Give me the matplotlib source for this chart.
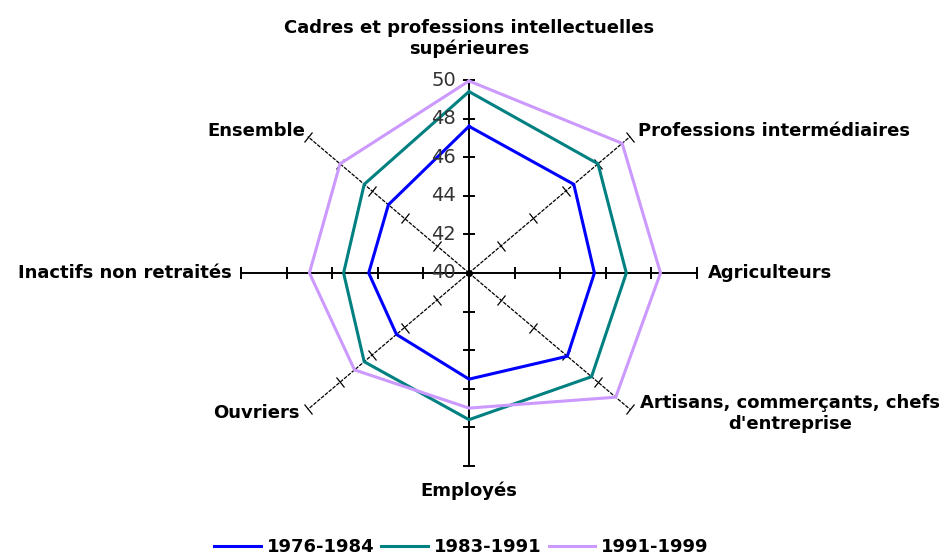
import matplotlib.pyplot as plt
from matplotlib.markers import MarkerStyle
from matplotlib.transforms import Affine2D
import numpy as np

# catégories dans le sens horaire depuis le haut
categories = ["Cadres et professions intellectuelles\nsupérieures",
              "Professions intermédiaires",
              "Agriculteurs",
              "Artisans, commerçants, chefs\nd'entreprise",
              "Employés",
              "Ouvriers",
              "Inactifs non retraités",
              "Ensemble"]
p1976 = [47.6, 46.5, 45.5, 46.1, 45.5, 44.5, 44.4, 45.0]
p1983 = [49.4, 48.0, 46.9, 47.6, 47.6, 46.5, 45.5, 46.5]
p1991 = [49.95, 49.5, 48.4, 49.1, 47.0, 47.1, 47.0, 48.0]
ticks = [40, 42, 44, 46, 48, 50]
series_names = ["1976-1984", "1983-1991", "1991-1999"]
colors = ["#0000FF", "#008080", "#CC99FF"]

W, H = 953, 557
fig = plt.figure(figsize=(W/100, H/100), dpi=100)
# axe polaire etire horizontalement comme dans le graphique Excel
ax = fig.add_axes([241/W, 91/H, 456/W, 386/H], projection="polar")
ax.set_aspect("auto")
ax.set_theta_zero_location("N")
ax.set_theta_direction(-1)
ax.set_ylim(ticks[0], ticks[-1])
ax.grid(False)
ax.set_xticks([])
ax.set_yticks([])
ax.spines["polar"].set_visible(False)
ax.patch.set_visible(False)

n = len(categories)
angles = np.arange(n) * 2*np.pi/n

fig.canvas.draw()
for i, a in enumerate(angles):
    if i % 2 == 0:
        lw, ls = 1.4, "-"
    else:
        lw, ls = 0.9, (0, (3, 1))
    ax.plot([a, a], [ticks[0], ticks[-1]], color="black", lw=lw, ls=ls,
            clip_on=False, zorder=1)
    p0 = ax.transData.transform((a, ticks[0]))
    p1 = ax.transData.transform((a, ticks[-1]))
    ang = np.degrees(np.arctan2(p1[1]-p0[1], p1[0]-p0[0])) + 90
    m = MarkerStyle("_", transform=Affine2D().rotate_deg(ang))
    ax.plot([a]*(len(ticks)-1), ticks[1:], ls="none", marker=m, ms=9,
            mew=lw, color="black", clip_on=False, zorder=1)
ax.plot([0], [ticks[0]], "o", color="black", ms=4, zorder=2)

for vals, c, name in zip([p1976, p1983, p1991], colors, series_names):
    v = vals + vals[:1]
    t = list(angles) + [angles[0]]
    ax.plot(t, v, color=c, lw=2.2, clip_on=False, zorder=3, label=name)

for tv in ticks:
    ax.annotate(str(tv), (0, tv), xytext=(-13, 0), textcoords="offset pixels",
                ha="right", va="center", fontsize=14, color="#333333", zorder=4)

# position des libellés (decalage en pixels depuis le bout de l'axe)
label_pos = [((0, 22), "center", "bottom"),
             ((8, 6), "left", "center"),
             ((11, 0), "left", "center"),
             ((10, -4), "left", "center"),
             ((0, -16), "center", "top"),
             ((-8, -4), "right", "center"),
             ((-9, 0), "right", "center"),
             ((-3, 6), "right", "center")]
for a, lab, (off, ha, va) in zip(angles, categories, label_pos):
    ax.annotate(lab, (a, ticks[-1]), xytext=off, textcoords="offset pixels",
                ha=ha, va=va, ma="center", fontsize=13, fontweight="bold",
                color="black", linespacing=1.2)

fig.legend(loc="center", bbox_to_anchor=(0.484, 0.018), ncol=3, frameon=False,
           prop={"weight": "bold", "size": 13}, handlelength=2.6,
           handletextpad=0.3, columnspacing=0.4)

fig.savefig("out.png", dpi=100)
